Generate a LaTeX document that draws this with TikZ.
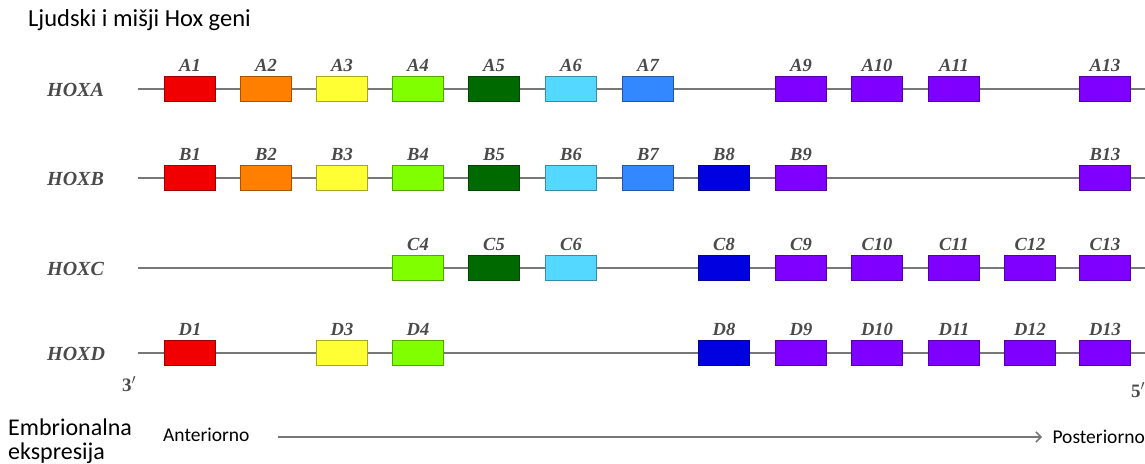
\documentclass[tikz,border=0pt]{standalone}
\usepackage{fontspec}
\setmainfont{Liberation Serif}
\newfontfamily\calfont{Carlito}
\usetikzlibrary{arrows.meta}
\definecolor{cRed}{HTML}{F00000}
\definecolor{cOrange}{HTML}{FF8000}
\definecolor{cYellow}{HTML}{FFFF33}
\definecolor{cLgreen}{HTML}{80FF00}
\definecolor{cDgreen}{HTML}{006A00}
\definecolor{cLblue}{HTML}{55D8FF}
\definecolor{cBlue}{HTML}{3388FF}
\definecolor{cDblue}{HTML}{0000E0}
\definecolor{cPurple}{HTML}{8000FF}
\definecolor{lineGray}{HTML}{777777}
\definecolor{labGray}{HTML}{4A4A4A}
\tikzset{
  gene/.style={draw=#1!65!black, fill=#1, line width=1pt, minimum width=51pt, minimum height=25pt, inner sep=0pt},
  glabel/.style={font=\bfseries\itshape\fontsize{18.5}{18.5}\selectfont, text=labGray, inner sep=0pt},
  rowlabel/.style={font=\bfseries\itshape\fontsize{20}{20}\selectfont, text=labGray, inner sep=0pt},
  primelabel/.style={font=\bfseries\fontsize{19}{19}\selectfont, text=labGray, inner sep=0pt},
  chrom/.style={draw=lineGray, line width=1.3pt},
  caltext/.style={font=\calfont\fontsize{19.5}{20}\selectfont, inner sep=0pt},
}
\begin{document}
\begin{tikzpicture}[x=1pt,y=-1pt]
\useasboundingbox (0,0) rectangle (1145,463);
\node[caltext, font=\calfont\fontsize{24.5}{26}\selectfont, anchor=base west] (title) at (28,26) {Ljudski i mišji Hox geni};
\def\ya{89}\def\yb{178}\def\yc{268}\def\yd{353}
% HOXA
\node[rowlabel, anchor=base west] (hoxa) at (47,\ya+7) {HOXA};
\coordinate (aS) at (138,\ya); \coordinate (aE) at (1145,\ya);
\draw[chrom] (aS) -- (aE);
\foreach \n/\x/\c in {1/190/cRed,2/266/cOrange,3/342/cYellow,4/418/cLgreen,5/494/cDgreen,6/571/cLblue,7/648/cBlue,9/801/cPurple,10/877/cPurple,11/954/cPurple,13/1105/cPurple}{
  \node[gene=\c] (A\n) at (\x,\ya) {};
  \node[glabel, anchor=base] (lA\n) at (\x,\ya-18) {A\n};
}
% HOXB
\node[rowlabel, anchor=base west] (hoxb) at (47,\yb+7) {HOXB};
\coordinate (bS) at (138,\yb); \coordinate (bE) at (1145,\yb);
\draw[chrom] (bS) -- (bE);
\foreach \n/\x/\c in {1/190/cRed,2/266/cOrange,3/342/cYellow,4/418/cLgreen,5/494/cDgreen,6/571/cLblue,7/648/cBlue,8/724/cDblue,9/801/cPurple,13/1105/cPurple}{
  \node[gene=\c] (B\n) at (\x,\yb) {};
  \node[glabel, anchor=base] (lB\n) at (\x,\yb-18) {B\n};
}
% HOXC
\node[rowlabel, anchor=base west] (hoxc) at (47,\yc+7) {HOXC};
\coordinate (cS) at (138,\yc); \coordinate (cE) at (1145,\yc);
\draw[chrom] (cS) -- (cE);
\foreach \n/\x/\c in {4/418/cLgreen,5/494/cDgreen,6/571/cLblue,8/724/cDblue,9/801/cPurple,10/877/cPurple,11/954/cPurple,12/1030/cPurple,13/1105/cPurple}{
  \node[gene=\c] (C\n) at (\x,\yc) {};
  \node[glabel, anchor=base] (lC\n) at (\x,\yc-18) {C\n};
}
% HOXD
\node[rowlabel, anchor=base west] (hoxd) at (47,\yd+7) {HOXD};
\coordinate (dS) at (138,\yd); \coordinate (dE) at (1145,\yd);
\draw[chrom] (dS) -- (dE);
\foreach \n/\x/\c in {1/190/cRed,3/342/cYellow,4/418/cLgreen,8/724/cDblue,9/801/cPurple,10/877/cPurple,11/954/cPurple,12/1030/cPurple,13/1105/cPurple}{
  \node[gene=\c] (D\n) at (\x,\yd) {};
  \node[glabel, anchor=base] (lD\n) at (\x,\yd-18) {D\n};
}
\node[primelabel, anchor=base west] (three) at (122,391) {3$'$};
\node[primelabel, anchor=base west] (five) at (1131,397) {5$'$};
% bottom
\node[caltext, font=\calfont\fontsize{24}{26}\selectfont, anchor=base west] (emb) at (8,435) {Embrionalna};
\node[caltext, font=\calfont\fontsize{24}{26}\selectfont, anchor=base west] (eks) at (8,459) {ekspresija};
\node[caltext, anchor=base west] (ant) at (163,441) {Anteriorno};
\node[caltext, anchor=base east] (post) at (1145,443) {Posteriorno};
\coordinate (arrS) at (278,437);
\coordinate (arrE) at (1042,437);
\draw[draw=lineGray, line width=1.5pt, -{Straight Barb[length=5pt,width=10pt]}] (arrS) -- (arrE);
\end{tikzpicture}
\end{document}
